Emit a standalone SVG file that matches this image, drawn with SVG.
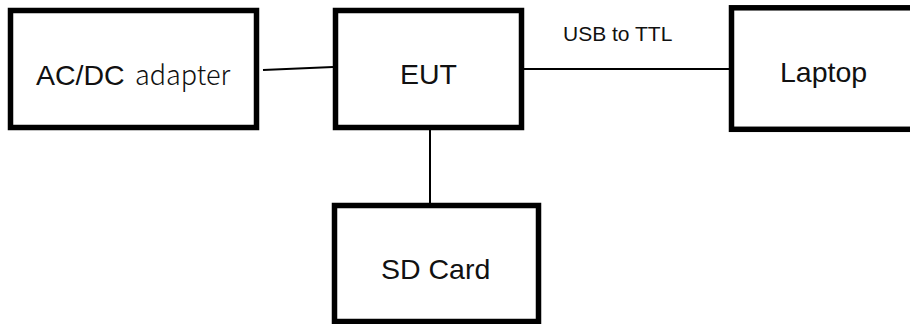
<svg xmlns="http://www.w3.org/2000/svg" width="910" height="324" viewBox="0 0 910 324">
<style>
.box{fill:#fff;stroke:#000;stroke-width:5.5}
.lbl{font-family:"Liberation Sans",Arial,sans-serif;font-size:28.5px;fill:#111}
.cjk{font-family:"Noto Sans CJK SC","Liberation Sans",sans-serif;font-size:27px;font-weight:300;fill:#111}
.edge{stroke:#000;stroke-width:2;fill:none}
.elbl{font-family:"Liberation Sans",Arial,sans-serif;font-size:21px;fill:#111}
</style>
<rect width="910" height="324" fill="#fff"/>
<g id="connectors">
<line class="edge" x1="263" y1="70" x2="333" y2="67"/>
<line class="edge" x1="524" y1="69" x2="730" y2="69"/>
<line class="edge" x1="430" y1="130" x2="430" y2="203"/>
<text class="elbl" x="563" y="41">USB to TTL</text>
</g>
<g id="acdc">
<rect class="box" x="10.5" y="10.5" width="246" height="117"/>
<text x="36" y="85"><tspan class="lbl">AC/DC</tspan><tspan class="cjk" x="135">adapter</tspan></text>
</g>
<g id="eut">
<rect class="box" x="335.5" y="10.5" width="186" height="117"/>
<text class="lbl" x="400" y="84">EUT</text>
</g>
<g id="laptop">
<rect class="box" x="731.5" y="7.8" width="200" height="121.5"/>
<text class="lbl" x="780" y="82">Laptop</text>
</g>
<g id="sdcard">
<rect class="box" x="334.5" y="205.5" width="204" height="116"/>
<text class="lbl" x="381" y="279">SD Card</text>
</g>
</svg>
